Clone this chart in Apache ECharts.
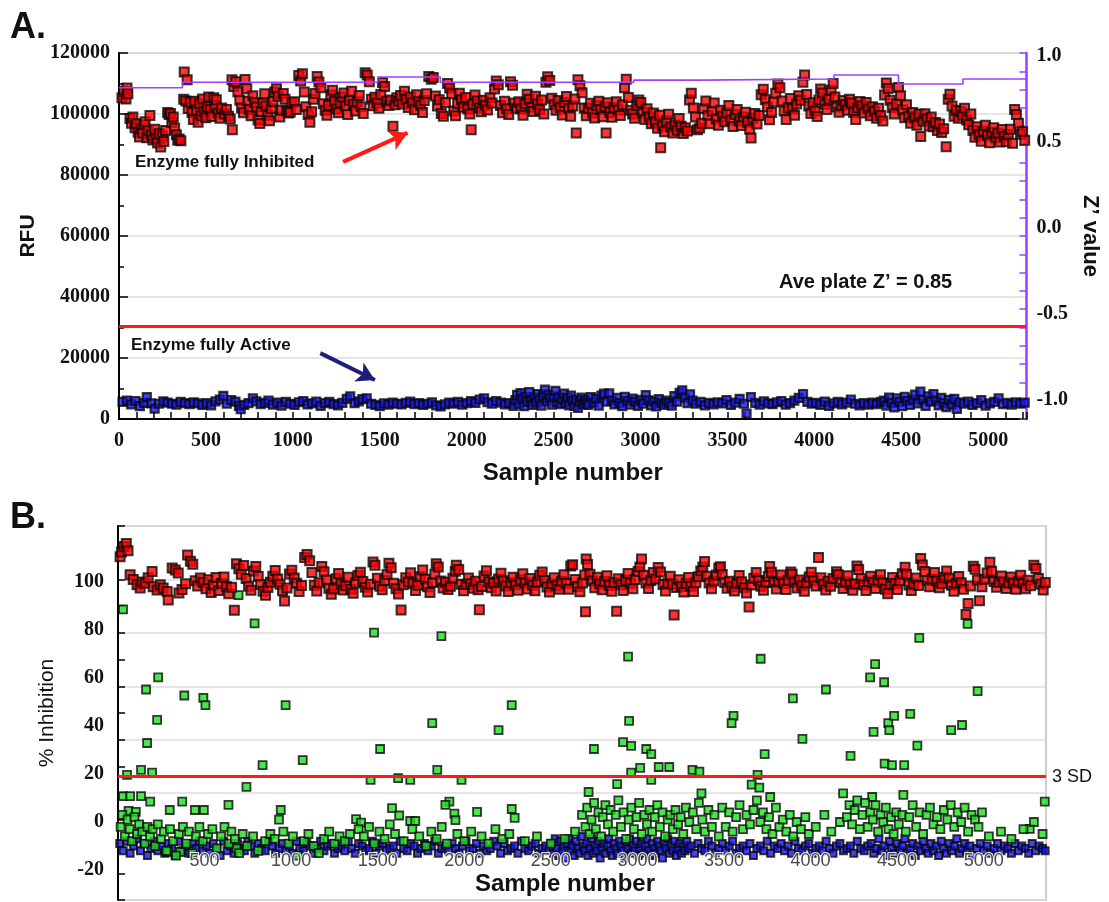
<!DOCTYPE html>
<html><head><meta charset="utf-8">
<script src="https://cdn.jsdelivr.net/npm/echarts@6/dist/echarts.min.js"></script>
<style>html,body{margin:0;padding:0;background:#fff}#c{width:1109px;height:902px}</style>
</head><body><div id="c"></div>
<script>
// ---------- Panel A data: [sample number, RFU] ----------
const aInhibited = [
[17,105300],[28,107500],[40,104900],[46,108500],[51,106600],
[63,98500],[72,97000],[80,99000],[92,95500],[100,96800],[110,94000],[118,92500],[126,95200],[135,93800],[144,96500],[150,97500],[160,92200],[168,94500],[178,99500],[186,93000],[195,91500],[205,95000],[214,92000],[222,90500],[232,93500],[240,89200],[250,92800],[258,91000],[268,94600],[280,100500],[288,99800],[296,100200],[304,97200],[312,99000],[320,95400],[330,93200],[338,91400],[346,91800],[356,91200],
[372,104800],[375,113800],[384,104300],[392,111200],[398,101800],[410,103900],[420,100500],[428,98200],[436,104200],[446,101200],[455,97300],[464,103400],[472,99400],[480,104900],[490,100700],[500,98800],[508,102400],[516,105600],[525,101500],[534,99200],[545,105300],[552,102800],[560,104700],[570,100300],[580,98600],[590,102000],[606,100000],[618,101500],[630,99300],[640,98400],[650,111200],[652,94800],[660,109000],[672,110600],[684,107200],[695,104500],[705,102000],[716,100400],
[725,111300],[735,108300],[742,104200],[750,101500],[760,99400],[770,106000],[780,103800],[790,102300],[800,98000],[810,96900],[818,100800],[828,103500],[838,106600],[846,102600],[856,99600],[866,97800],[876,101700],[886,104000],[896,107200],[906,108300],[915,105800],[925,99000],[935,101200],[945,106700],[955,104800],[965,101000],[975,100300],[985,100600],[995,103800],
[1010,104000],[1020,101500],[1034,112600],[1045,110800],[1055,113200],[1066,107200],[1075,102400],[1088,99800],[1098,97300],[1108,100700],[1118,104800],[1128,106700],[1140,112300],[1150,110500],[1162,108600],[1175,103400],[1186,101200],[1196,99600],[1206,102900],[1218,106200],[1228,107800],[1240,104200],[1250,101600],[1262,100400],[1272,103700],[1284,105600],[1294,106900],[1305,102600],[1316,99800],[1326,104500],[1338,107500],[1348,103200],[1360,101000],[1370,104000],[1382,106100],[1392,102400],[1405,100200],[1416,113500],[1428,112800],[1440,110600],[1452,104800],[1462,102700],[1472,105500],[1484,103600],[1495,101900],[1506,106400],[1516,110300],[1528,109000],[1540,104200],[1552,102800],[1562,104600],[1576,96000],[1588,103000],[1598,105300],
[1610,104200],[1620,106100],[1630,103300],[1642,107500],[1652,104800],[1664,102100],[1676,105600],[1688,103700],[1700,101400],[1712,106300],[1722,104000],[1735,102800],[1746,100500],[1756,104400],[1770,106600],[1782,112300],[1796,111400],[1808,112000],[1820,105900],[1832,102600],[1842,104700],[1854,100200],[1866,99300],[1878,103800],[1890,110000],[1902,108500],[1914,106600],[1926,101000],[1936,99400],[1948,103400],[1958,106800],[1970,104700],[1982,102200],[1994,105400],[2006,101600],[2018,100000],[2026,94800],[2036,103200],[2048,106200],[2060,104300],[2072,102000],[2084,100700],[2096,104500],[2108,102900],[2120,101300],[2134,105300],[2146,103600],[2160,108200],[2170,110800],[2182,109600],[2194,102800],[2206,100400],[2218,104200],[2230,101700],[2242,99800],[2252,110600],[2264,109400],[2276,103600],[2288,101900],
[2300,104000],[2312,101600],[2324,99600],[2336,103400],[2348,106500],[2360,104800],[2372,102200],[2384,100800],[2396,105800],[2408,103300],[2420,101400],[2432,104600],[2444,100000],[2456,110400],[2466,112200],[2478,111000],[2490,105200],[2502,103000],[2514,101200],[2526,104400],[2538,102100],[2550,99700],[2562,103800],[2574,105700],[2586,101800],[2598,99300],[2610,102600],[2622,104900],[2630,93800],[2640,111200],[2652,109300],[2664,107000],[2676,102000],[2688,99400],[2700,101800],[2712,103500],[2724,100300],[2736,98700],[2748,102700],[2760,104200],[2772,101500],[2784,99100],[2796,102400],[2802,93800],[2812,103700],[2824,100500],[2836,98900],[2848,102100],[2860,104000],[2872,101300],[2884,99500],[2896,103000],[2908,108600],[2918,111400],[2930,105400],[2942,101200],[2954,100000],[2966,98600],[2978,102900],[2990,104600],
[3002,103800],[3014,100400],[3026,98200],[3038,101700],[3050,99000],[3062,96800],[3074,100300],[3086,97400],[3098,95300],[3110,99600],[3116,88900],[3126,96100],[3138,94200],[3150,97800],[3162,99900],[3174,95700],[3186,93800],[3198,96400],[3210,94700],[3222,98500],[3234,96000],[3246,93600],[3258,95500],[3270,94400],[3282,104600],[3292,106800],[3304,102000],[3316,99000],[3328,94800],[3340,95400],
[3352,97000],[3364,101800],[3376,104300],[3388,99500],[3400,96800],[3412,100900],[3424,103600],[3436,98400],[3448,96300],[3460,101200],[3472,99300],[3484,97500],[3496,100400],[3508,102800],[3520,98000],[3532,95900],[3544,99800],[3556,101500],[3568,97700],[3580,96200],[3592,99000],[3604,100600],[3616,97300],[3628,95000],[3636,92100],[3646,98600],[3658,100200],[3670,96700],[3682,99500],[3694,106300],[3706,108100],[3718,104700],[3730,102300],[3742,98100],[3754,100500],[3766,103900],[3778,106800],[3790,109800],[3802,108600],[3814,104300],[3826,101000],[3838,98200],[3850,102000],[3862,105100],[3874,101700],[3886,99600],[3898,103300],[3910,106000],[3922,104500],[3934,110400],[3944,112800],[3956,106400],[3968,102600],[3980,100200],[3992,103700],[4004,101000],[4016,99200],[4026,104600],[4036,108200],[4048,106900],[4060,103200],[4072,101500],[4084,104900],[4096,107800],[4108,110000],[4118,105600],[4130,102300],[4142,100600],
[4154,102800],[4166,104400],[4178,103100],[4190,101200],[4202,104800],[4214,103600],[4226,100500],[4238,98200],[4250,102000],[4262,104100],[4274,102700],[4286,100300],[4298,103800],[4310,101600],[4322,99400],[4334,102400],[4346,100800],[4358,98600],[4370,101900],[4382,99500],[4394,97700],[4404,106200],[4414,110200],[4424,108400],[4436,104500],[4448,102100],[4460,100000],[4472,103300],[4484,108700],[4496,106000],[4508,101400],[4520,98800],[4530,103000],
[4542,99200],[4554,97000],[4566,100500],[4578,98700],[4590,96300],[4602,99900],[4612,92600],[4624,97600],[4636,100100],[4648,98400],[4660,96100],[4672,99000],[4684,95800],[4696,97200],[4708,94600],[4720,96700],[4732,93900],[4744,95200],[4758,89300],[4770,104800],[4780,106500],[4792,102600],[4804,99300],[4816,101200],[4828,98600],[4840,100800],[4852,99700],[4864,101900],[4876,98000],[4888,96500],[4900,100000],
[4912,94600],[4924,92400],[4936,95800],[4948,93200],[4960,91100],[4972,94400],[4984,96300],[4996,92900],[5008,90600],[5020,94000],[5032,95500],[5044,92200],[5056,93700],[5068,90800],[5080,94900],[5092,92600],[5104,91000],[5116,93300],[5128,95000],[5140,90400],[5152,101500],[5162,99800],[5174,97000],[5186,93400],[5198,94200],[5210,91400]
];
const aActive = [
[20,5600],[45,6000],[70,4800],[95,5900],[120,4200],[145,5300],[160,7200],[185,5100],[205,3400],[230,5000],[255,5800],[280,5400],[305,5000],[330,4700],[355,5600],[380,5200],[405,4900],[430,5500],[455,5100],[480,4600],
[505,5200],[530,4500],[555,5800],[580,6400],[600,7600],[620,5000],[645,6200],[670,5700],[690,4300],[700,3200],[720,4600],[745,5200],[770,6800],[790,5800],[815,4900],[840,5300],[860,6000],[885,4700],[910,5400],[935,4400],[960,5600],[985,5000],
[1010,4600],[1035,5500],[1060,5900],[1085,4800],[1110,5100],[1135,5700],[1160,4300],[1185,5200],[1210,5600],[1235,4900],[1260,4500],[1285,5300],[1310,6600],[1330,7400],[1355,5200],[1380,5800],[1400,6500],[1425,6800],[1450,5000],[1475,4600],
[1500,4200],[1525,5100],[1550,4700],[1575,5400],[1600,5000],[1625,4800],[1650,5300],[1675,5700],[1700,4900],[1725,5200],[1750,4600],[1775,5000],[1800,5500],[1825,4500],[1850,4100],[1875,4800],[1900,5400],[1925,5000],[1950,5600],[1975,4700],
[2000,5200],[2025,5900],[2050,5300],[2075,6400],[2100,6800],[2120,5500],[2145,5000],[2170,5900],[2195,5400],[2220,4800],[2245,5200],
[2270,4300],[2280,6200],[2290,7900],[2300,5000],[2310,8500],[2320,6600],[2330,4200],[2340,7300],[2350,5600],[2360,8800],[2370,6000],[2380,4600],[2390,7000],[2400,5400],[2410,8200],[2420,6300],[2430,4400],[2440,7600],[2450,9600],[2460,5800],[2470,8000],[2480,6800],[2490,4700],[2500,7400],[2510,9200],[2520,5500],[2530,7100],[2540,4900],[2550,6500],[2560,8300],[2570,5200],[2580,6900],[2590,4500],[2600,7700],[2610,5900],[2620,4300],[2630,6400],[2640,3600],[2650,5600],[2660,7000],[2670,4800],[2680,6200],[2690,5300],
[2700,4600],[2715,7200],[2730,5400],[2745,6600],[2760,4400],[2775,7700],[2790,8300],[2805,5700],[2820,8400],[2835,6000],[2850,4800],[2865,6900],[2880,5300],[2895,4200],[2910,7300],[2925,5900],[2940,4700],[2955,6700],[2970,5600],[2985,4300],[3000,6300],[3015,5000],[3030,7800],[3045,6100],[3060,4500],[3075,5800],[3090,4100],[3105,6500],[3120,5200],[3135,4600],[3150,6000],[3165,5400],[3180,4400],[3195,7500],[3210,5700],[3225,8600],[3240,9400],[3255,7000],[3270,5200],[3285,8100],[3300,6000],
[3320,5000],[3345,5600],[3370,4500],[3395,5300],[3420,4800],[3445,5500],[3470,5100],[3495,6200],[3520,4600],[3545,5400],[3570,6600],[3595,5000],[3610,1800],[3635,7200],[3660,5300],[3685,4700],[3710,5800],[3735,5100],[3760,4900],[3785,5500],[3810,5900],[3835,4700],[3860,5200],[3885,6000],[3910,6900],[3935,8200],[3960,5600],[3985,5000],[4010,5300],[4035,4600],[4060,5700],[4085,4300],[4110,5100],[4135,5600],[4160,4800],[4185,5400],[4210,6400],[4235,5000],[4260,4500],[4285,5200],[4310,4700],[4335,5400],[4360,4900],[4385,5600],
[4400,6000],[4415,4400],[4430,7000],[4445,5300],[4460,3800],[4475,6800],[4490,5600],[4505,4200],[4520,7300],[4535,5900],[4550,4600],[4565,6400],[4580,8000],[4595,5100],[4610,9000],[4625,6200],[4640,4300],[4655,7400],[4670,5700],[4685,8200],[4700,6000],[4715,4500],[4730,6900],[4745,5200],[4760,3900],[4775,6300],[4790,4800],[4805,6600],[4820,3300],[4835,5500],
[4860,5000],[4885,5700],[4910,4600],[4935,5200],[4960,6200],[4985,4400],[5010,5100],[5035,5600],[5060,6800],[5085,4900],[5110,5300],[5135,4700],[5160,5500],[5185,5000],[5210,5400]
];
// Z' value per plate (step line): [first sample of plate, Z']
const aZprime = [[0,0.81],[365,0.84],[1489,0.869],[1848,0.84],[2961,0.852],[3355,0.858],[4113,0.88],[4484,0.831],[4855,0.858],[5220,0.858]];
const aThresholdRFU = 30400;
const aArrowInhibited = [[1289,84300],[1660,93800]];
const aArrowActive = [[1158,21600],[1472,12800]];
const zRightLabels = [-1,-0.5,0,0.5,1];

// ---------- Panel B data: [sample number, % inhibition] ----------
const bInhibited = [
[12,110.5],[20,112.5],[35,114.8],[48,116],[58,113],[70,103],[88,101],[110,98.8],[128,97.5],[139,100],[157,99.5],[174,101.7],[197,104.3],[203,98],[226,96.6],[244,98.8],[261,97.5],[284,96],[290,92.5],[313,105.8],[331,105],[348,103.7],[352,95.4],
[370,96.8],[390,99.2],[402,111.2],[418,108.6],[432,107.4],[446,100.5],[460,98.3],[476,101.6],[492,99.8],[508,97.2],[522,100.9],[538,95.6],[552,98.7],[566,101.8],[582,96.4],[598,99.3],[612,102.1],[626,98],[640,95.1],[656,97.8],[672,88.2],[684,107.6],[698,105.5],[712,103.2],[726,106.8],[740,101.4],[754,98.2],[768,96.5],[782,104.6],[796,106.4],[810,102.3],[824,98.9],[838,96.1],[852,94.4],[866,97.7],[880,99.9],[894,102.4],[908,104.8],[922,101.2],[936,99],[950,96.3],[962,92.1],[976,97.5],[990,103.3],
[1004,104.9],[1018,101.6],[1032,99.4],[1046,96],[1060,98.5],[1078,110.2],[1092,111.4],[1107,108.8],[1120,103.9],[1134,98.6],[1148,96.2],[1162,99.7],[1177,106.4],[1190,104.2],[1204,100.8],[1218,97.4],[1232,94.9],[1246,97.1],[1260,101.3],[1274,103.5],[1288,99.1],[1302,96.6],[1316,98.4],[1330,101.9],[1344,97],[1358,95.3],[1372,99.6],[1386,102.7],[1400,104],[1414,100.2],[1428,97.8],[1442,95.8],[1458,99],[1473,108.3],[1484,107],[1498,101.5],
[1512,98.2],[1526,96.7],[1540,100.6],[1554,103.1],[1565,107.8],[1578,105.9],[1592,99.4],[1606,97.2],[1620,95],[1635,88.3],[1648,98.8],[1662,101.7],[1676,100],[1690,103.8],[1704,99.3],[1718,96.4],[1732,98.6],[1746,102.2],[1760,105],[1774,101.1],[1788,98],[1802,95.6],[1816,99.8],[1830,103.2],[1838,107.6],[1850,106.2],[1864,100.4],[1878,97.5],[1892,99.9],[1906,96.8],[1920,98.2],[1934,101.5],[1948,104.4],[1954,107],[1968,105.2],[1982,99],[1996,96.3],
[2010,98.9],[2024,101.6],[2038,99.2],[2052,97.4],[2066,100.3],[2080,96.7],[2087,88.4],[2100,98.1],[2114,102.5],[2128,104.7],[2142,100.1],[2156,97.6],[2170,99.4],[2184,96.2],[2198,101.2],[2212,103.6],[2226,100.5],[2240,98.3],[2254,96],[2268,99.7],[2282,102],[2296,98.8],[2310,96.5],[2324,100.9],[2338,103.4],[2352,99.6],[2366,97.1],[2380,101.4],[2394,98.6],[2408,96.3],[2422,99.9],[2436,102.8],[2450,104.1],[2464,100.6],[2478,97.9],[2492,95.8],
[2506,99.2],[2520,101.7],[2534,98.4],[2548,96.9],[2562,100.3],[2576,103],[2590,99.5],[2604,97],[2615,106.6],[2626,107.2],[2640,101],[2654,98.1],[2668,95.9],[2682,99.6],[2696,102.9],[2700,87.6],[2704,109.6],[2712,107.3],[2726,103.2],[2740,100.4],[2754,97.6],[2768,101.9],[2782,99.1],[2796,96.7],[2810,100.2],[2824,102.6],[2838,98.5],[2852,96.1],[2866,99.8],[2880,87.8],[2890,101.3],[2904,98.8],[2918,96.4],[2932,100.7],[2946,103.5],[2960,99.4],[2974,97.2],[2988,101],
[3004,104.3],[3014,106.2],[3024,109.6],[3036,102.8],[3050,99.6],[3064,97.3],[3078,100.6],[3092,103.9],[3106,101.2],[3120,106],[3134,104.1],[3148,98.9],[3162,96.2],[3176,99.5],[3190,102.4],[3204,99],[3212,86.2],[3226,97.7],[3240,100.9],[3254,98.1],[3268,95.8],[3282,99.3],[3296,101.8],[3310,98.2],[3324,96],[3338,99.7],[3352,102.2],[3366,104.6],[3378,106.2],[3388,108.5],[3400,102.4],[3414,99.6],[3428,97.2],[3442,100.4],[3456,102.9],[3470,105.8],[3480,106.3],[3490,103.1],
[3504,99.8],[3518,97.4],[3532,100.3],[3546,98],[3560,96.2],[3574,99.5],[3588,102.7],[3602,100.1],[3616,97.6],[3630,95.4],[3645,89.6],[3658,98.7],[3672,101.5],[3686,103.9],[3700,100.6],[3714,98.2],[3728,96.5],[3742,99.9],[3756,102.3],[3764,106.4],[3774,104],[3788,99.8],[3802,97.1],[3816,100.2],[3830,102.9],[3844,99.3],[3858,96.8],[3872,100.7],[3886,104.1],[3894,103.2],[3908,99.9],[3922,97.5],[3936,100.8],[3950,98.4],[3964,96.1],[3978,99.6],[3992,102.1],
[4004,104],[4018,100.5],[4032,98.3],[4046,110.2],[4060,101.7],[4074,99],[4088,96.6],[4102,100.3],[4116,98.2],[4130,101.4],[4150,104.2],[4160,103],[4174,99.7],[4188,97.3],[4202,100],[4216,102.6],[4230,98.8],[4244,96.5],[4258,99.2],[4268,106.6],[4278,105.2],[4292,101.3],[4306,98.7],[4320,96.4],[4334,100.1],[4348,102.4],[4362,99.8],[4376,97.3],[4390,100.6],[4404,103],[4418,99.7],[4432,97],[4446,95.1],[4460,98.9],[4474,101.8],[4488,99.3],
[4502,96.8],[4516,100.5],[4530,103.4],[4546,106.1],[4554,103.2],[4568,98.7],[4582,96.4],[4596,99.1],[4610,101.6],[4624,98.5],[4636,109.8],[4646,107.1],[4660,104.3],[4674,100.6],[4688,98],[4702,101.2],[4716,103.9],[4730,100.4],[4744,97.6],[4758,99.3],[4772,102],[4786,104.6],[4800,101.5],[4814,98.6],[4828,96.1],[4842,99.5],[4856,102.3],[4870,99.7],[4884,97],[4898,86.4],[4910,91],[4924,98.3],[4940,106.5],[4950,105.3],[4964,100.8],[4976,92.2],[4990,98],
[5004,101.1],[5020,103.7],[5036,108.2],[5046,104.5],[5060,100.2],[5074,97.8],[5088,99.9],[5102,102.5],[5116,100],[5130,97.3],[5144,99.6],[5158,102.1],[5172,99.4],[5186,96.9],[5200,100.3],[5214,102.8],[5228,99.5],[5242,97.2],[5256,100.7],[5270,98.4],[5290,107],[5302,105.6],[5316,101.4],[5330,99],[5344,96.6],[5356,99.8]
];
const bSamples = [
[29,88.6],[696,94.5],[789,82.7],[1479,78.9],[1868,77.4],[162,55.2],[232,60.2],[226,42.5],[168,32.9],[383,52.7],[493,51.7],[505,48.7],[968,48.7],[1815,41.2],[2274,48.7],[2198,38.3],[1514,30.4],[1067,25.8],[835,23.7],[52,19.6],[133,21.7],[197,20.6],[1844,21.7],[1459,17.5],[1618,18.3],[1688,17.5],[1984,17.5],[742,14.6],[29,10.8],[70,10.8],[133,10.8],[186,8.5],[638,7.1],[1914,8.5],[1891,7.1],[61,4.6],[103,4.2],[299,5],[371,8.5],[444,5],[496,5],[940,5],[1583,5.8],[2074,4.2],[2274,5.4],[1624,2.7],[1688,0.4],[1943,3.5],[1949,0.8],[2291,1.7],[1375,1.2],[1404,-0.3],[1717,0.4],[290,-12.5],[360,-12.5],[684,-11],
[2952,42.1],[2749,30.4],[2917,33.3],[2964,31.7],[3051,30.4],[3080,28.3],[3123,22.9],[3184,22.9],[2964,20.6],[3016,22.5],[3080,17.5],[3318,21.7],[3358,21],[3555,44.2],[3544,41.2],[3898,51.5],[3953,34.6],[3735,28.3],[3694,19.6],[3660,15.6],[3704,14.3],[2883,15.8],[2718,12.5],[3370,11.9],[3767,10.4],[4188,11.9],[4356,10.4],[4536,11.3],[4231,27.5],[4364,37.5],[4449,41.2],[4455,38.3],[4483,44.2],[4576,45],[4617,31.8],[4428,24.3],[4470,23.7],[4541,23.7],[4812,38.3],[4875,40.4],[4965,54.5],[5353,8.5],[5266,-2.9],
[2946,68.9],[3712,68],[4628,76.7],[4907,82.5],[4373,65.8],[4344,60.2],[4425,58.2],[4089,55.2],
[15,-2],[25,3],[40,-6],[55,1],[68,-3],[80,-8],[95,2],[110,-5],[122,-1],[140,-4],[155,-9],[170,-2],[185,-6],[200,-3],[215,-10],[230,-1],[248,-7],[265,-4],[280,-12],[300,-3],[318,-8],[335,-14],[352,-5],[375,-2],[395,-9],[410,-4],[430,-13],[450,-6],[470,-2],[490,-8],[520,-5],[545,-3],[570,-11],[595,-6],[615,-2],[640,-9],[655,-4],[675,-7],[700,-13],[720,-5],[745,-10],[780,-6],[810,-12],[850,-8],[880,-5],
[905,-7],[930,1],[955,-4],[985,-9],[1010,-6],[1040,-14],[1075,-8],[1100,-5],[1130,-10],[1160,-13],[1190,-7],[1220,-4],[1250,-9],[1280,-6],
[1310,-8],[1340,-5],[1390,-3],[1420,-6],[1450,-2],[1480,-9],[1510,-4],[1540,-7],[1570,-1],[1600,-5],[1650,-8],[1700,-3],[1740,-6],[1780,-10],[1810,-4],[1840,-7],[1870,-2],[1900,-9],[1960,-5],[2000,-8],[2040,-4],[2100,-6],[2140,-9],[2180,-3],[2220,-7],[2260,-5],
[2350,-8],[2420,-6],[2500,-9],[2580,-7],[2640,-4],
[2680,3],[2700,-2],[2710,6],[2725,-5],[2735,1],[2750,8],[2760,-3],[2775,4],[2790,-6],[2800,2],[2815,7],[2830,-1],[2845,5],[2860,-4],[2875,3],[2890,9],[2905,-2],[2920,4],[2935,-7],[2950,1],[2965,6],[2980,-3],[2995,2],[3010,8],[3025,-5],[3040,3],[3055,-1],[3070,5],[3085,-4],[3100,2],[3115,7],[3130,-2],[3145,4],[3160,-6],[3175,1],[3190,3],[3205,-3],[3220,5],[3235,-1],[3250,2],[3265,-5],[3280,6],[3300,0],[3320,4],[3340,-3],[3355,8],[3375,1],[3390,-4],[3410,5],[3430,-2],[3445,3],
[3470,-6],[3490,6],[3510,-2],[3530,4],[3550,-4],[3570,2],[3590,7],[3610,-3],[3630,3],[3650,-1],[3670,5],[3690,9],[3710,0],[3725,4],[3745,-3],[3760,2],[3780,-5],[3800,6],[3820,-2],[3840,1],[3860,-4],[3880,3],[3900,-6],[3920,0],[3945,-3],[3970,2],[3990,-5],
[4030,-2],[4080,3],[4120,-4],[4170,0],
[4210,2],[4225,7],[4240,-1],[4255,5],[4270,9],[4285,-3],[4300,3],[4315,8],[4330,-2],[4345,4],[4360,1],[4375,7],[4390,-4],[4405,3],[4420,0],[4435,6],[4450,-3],[4465,2],[4480,-5],[4495,4],[4510,-1],[4530,3],[4550,-4],[4570,2],[4590,7],[4610,-2],[4630,4],[4650,-5],[4670,3],[4690,6],[4710,-1],[4730,2],[4750,-3],[4770,5],[4790,1],[4810,7],[4830,-2],[4850,4],[4870,0],[4890,6],[4910,-4],[4930,3],[4950,1],[4970,-2],[4990,4],
[5030,-6],[5100,-4],[5160,-7],[5230,-3],[5290,0],[5340,-5]
];
const bActive = [
[10,-9],[30,-12],[50,-8],[70,-13],[90,-10],[110,-7],[130,-12],[150,-9],[170,-14],[190,-11],[210,-8],[230,-12],[250,-10],[270,-13],[290,-9],[310,-11],[330,-14],[350,-8],[370,-12],[390,-10],[410,-13],[430,-9],[450,-11],[470,-8],[490,-12],[510,-10],[530,-13],[550,-9],[570,-11],[590,-14],[610,-8],[630,-12],[650,-10],[670,-13],[690,-9],[710,-11],[730,-12],[750,-8],[770,-10],[790,-13],[810,-9],[830,-11],[850,-12],[870,-8],[890,-10],[910,-13],[930,-11],[950,-9],[970,-12],[990,-10],
[1010,-13],[1030,-8],[1050,-11],[1070,-12],[1090,-9],[1110,-10],[1130,-13],[1150,-11],[1170,-8],[1190,-12],[1210,-10],[1230,-9],[1250,-13],[1270,-11],[1290,-10],[1310,-12],[1330,-8],[1350,-11],[1370,-13],[1390,-9],[1410,-10],[1430,-12],[1450,-11],[1470,-8],[1490,-13],[1510,-10],[1530,-9],[1550,-12],[1570,-11],[1590,-10],[1610,-13],[1630,-8],[1650,-11],[1670,-12],[1690,-9],[1710,-10],[1730,-13],[1750,-11],[1770,-9],[1790,-12],[1810,-10],[1830,-8],[1850,-13],[1870,-11],[1890,-10],[1910,-12],[1930,-9],[1950,-11],[1970,-13],[1990,-10],
[2010,-8],[2030,-12],[2050,-11],[2070,-9],[2090,-13],[2110,-10],[2130,-12],[2150,-11],[2170,-8],[2190,-10],[2210,-13],[2230,-9],[2250,-12],[2270,-11],[2290,-10],[2310,-13],[2330,-8],[2350,-11],[2370,-12],[2390,-10],[2410,-9],[2430,-13],[2450,-11],[2470,-10],[2490,-12],
[2505,-9],[2515,-13],[2525,-7],[2535,-11],[2545,-14],[2555,-8],[2565,-12],[2575,-10],[2585,-15],[2595,-9],[2605,-7],[2615,-12],[2625,-10],[2635,-14],[2645,-8],[2655,-11],[2665,-13],[2675,-6],[2685,-10],[2695,-12],[2705,-9],[2715,-14],[2725,-11],[2735,-7],[2745,-13],[2755,-10],[2765,-12],[2775,-8],[2785,-15],[2795,-11],[2805,-9],[2815,-13],[2825,-10],[2835,-7],[2845,-12],[2855,-14],[2865,-9],[2875,-11],[2885,-13],[2895,-8],[2905,-10],[2915,-12],[2925,-15],[2935,-9],[2945,-11],[2955,-7],[2965,-13],[2975,-10],[2985,-12],[2995,-8],
[3005,-14],[3015,-11],[3025,-9],[3035,-13],[3045,-10],[3055,-7],[3065,-12],[3075,-14],[3085,-9],[3095,-11],[3105,-13],[3115,-8],[3125,-10],[3135,-12],[3145,-15],[3155,-9],[3165,-11],[3175,-7],[3185,-13],[3195,-10],[3205,-12],[3215,-8],[3225,-14],[3235,-11],[3245,-9],[3255,-13],[3265,-10],[3275,-12],[3285,-8],[3295,-11],
[3310,-10],[3330,-13],[3350,-9],[3370,-11],[3390,-12],[3410,-8],[3430,-10],[3450,-13],[3470,-11],[3490,-9],[3510,-12],[3530,-10],[3550,-8],[3570,-13],[3590,-11],[3610,-10],[3630,-12],[3650,-9],[3670,-14],[3690,-11],[3710,-10],[3730,-12],[3750,-8],[3770,-13],[3790,-10],[3810,-11],[3830,-9],[3850,-12],[3870,-10],[3890,-13],[3910,-8],[3930,-11],[3950,-12],[3970,-10],[3990,-9],
[4010,-13],[4030,-11],[4050,-10],[4070,-12],[4090,-8],[4110,-11],[4130,-13],[4150,-10],[4170,-9],[4190,-12],[4210,-11],[4230,-10],[4250,-13],[4270,-8],[4290,-11],[4310,-12],[4330,-10],
[4350,-9],[4365,-13],[4380,-11],[4395,-7],[4410,-12],[4425,-10],[4440,-14],[4455,-8],[4470,-11],[4485,-13],[4500,-9],[4515,-12],[4530,-10],[4545,-7],[4560,-13],[4575,-11],[4590,-9],[4605,-14],[4620,-10],[4635,-12],[4650,-8],[4665,-11],[4680,-13],[4695,-9],[4710,-12],[4725,-10],[4740,-14],[4755,-8],[4770,-11],[4785,-13],[4800,-9],[4815,-12],[4830,-10],[4845,-7],[4860,-13],[4875,-11],[4890,-9],[4905,-12],[4920,-10],[4935,-14],
[4960,-11],[4980,-9],[5000,-12],[5020,-10],[5040,-13],[5060,-11],[5080,-9],[5100,-12],[5120,-10],[5140,-11],[5160,-13],[5180,-9],[5200,-12],[5220,-10],[5240,-11],[5260,-13],[5280,-9],[5300,-12],[5320,-10],[5340,-11],[5355,-12]
];
const b3SD = 18.9;
const bYLabels = [-20,0,20,40,60,80,100];
const bXLabels = [500,1000,1500,2000,2500,3000,3500,4000,4500,5000];

// ---------- chart ----------
const chart = echarts.init(document.getElementById('c'), null, {renderer:'canvas'});
const SERIF = 'Liberation Serif', SANS = 'Liberation Sans';
const plain = v => String(v);
const tickLbl = {fontFamily:SERIF, fontWeight:'bold', fontSize:20, color:'#111'};
const sq = (fill, size, bw) => ({symbol:'rect', symbolSize:size, itemStyle:{color:fill, borderColor:'#0a0a0a', borderWidth:bw}});
function txt(x, y, text, font, align) {
  return {type:'text', x:x, y:y, z:100, style:{text:text, font:font, fill:'#111', textAlign:align||'left', align:align||'left', textVerticalAlign:'middle', verticalAlign:'middle'}};
}
const arrowEnd = (pt, color) => ({coord:pt, symbol:'arrow', symbolSize:[16,18], lineStyle:{color:color, width:4, type:'solid'}});
const arrowStart = (pt, color) => ({coord:pt, symbol:'none', lineStyle:{color:color, width:4, type:'solid'}});
const option = {
  animation:false,
  grid:[
    {left:119, top:53, width:915, height:366, show:true, borderColor:'#cccccc', borderWidth:2, backgroundColor:'transparent'},
    {left:118, top:526, width:928, height:374, show:true, borderColor:'#cccccc', borderWidth:2, backgroundColor:'transparent'}
  ],
  xAxis:[
    {gridIndex:0, type:'value', min:0, max:5220, interval:100,
     axisLine:{lineStyle:{color:'#000', width:2}},
     axisTick:{inside:true, length:7, lineStyle:{color:'#000', width:1.5}},
     axisLabel:Object.assign({margin:12, formatter:v => (v % 500 === 0 ? String(v) : '')}, tickLbl),
     splitLine:{show:false},
     name:'Sample number', nameLocation:'middle', nameGap:42,
     nameTextStyle:{fontFamily:SANS, fontWeight:'bold', fontSize:24, color:'#111'}},
    {gridIndex:1, type:'value', min:0, max:5360, z:10,
     axisLine:{show:false}, axisTick:{show:false}, splitLine:{show:false},
     axisLabel:{inside:true, customValues:bXLabels, formatter:plain, margin:30, fontFamily:SANS, fontSize:18, color:'#4a4a4a',
       textBorderColor:'rgba(255,255,255,0.85)', textBorderWidth:2}}
  ],
  yAxis:[
    {gridIndex:0, position:'left', type:'value', min:0, max:120000, interval:20000,
     axisLine:{show:true, lineStyle:{color:'#000', width:2}},
     axisTick:{show:true, inside:true, length:9, lineStyle:{color:'#000', width:1.5}},
     minorTick:{show:true, splitNumber:2, length:5, lineStyle:{color:'#000', width:1.5}},
     splitLine:{show:true, lineStyle:{color:'#dcdcdc', width:1.5}},
     axisLabel:Object.assign({margin:9, formatter:plain}, tickLbl),
     name:'RFU', nameLocation:'middle', nameRotate:90, nameGap:77,
     nameTextStyle:{fontFamily:SANS, fontWeight:'bold', fontSize:21, color:'#111'}},
    {gridIndex:0, position:'right', type:'value', min:-1, max:1, interval:0.1,
     axisLine:{show:true, lineStyle:{color:'#a040ff', width:2.5}},
     axisTick:{show:true, inside:true, length:7, lineStyle:{color:'#a040ff', width:1.5}},
     axisLabel:{show:false}, splitLine:{show:false}},
    {gridIndex:0, position:'right', type:'value', min:-1.11, max:1.017,
     axisLine:{show:false}, axisTick:{show:false}, splitLine:{show:false},
     axisLabel:Object.assign({margin:10, customValues:zRightLabels, formatter:v => v.toFixed(1)}, tickLbl),
     name:'Z\u2019 value', nameLocation:'middle', nameRotate:-90, nameGap:38,
     nameTextStyle:{fontFamily:SANS, fontWeight:'bold', fontSize:22, color:'#111'}},
    {gridIndex:1, position:'left', type:'value', min:-32.5, max:123.3,
     axisLine:{show:false}, axisTick:{show:false}, splitLine:{show:false},
     axisLabel:Object.assign({margin:14, customValues:bYLabels, formatter:plain}, tickLbl),
     name:'% Inhibition', nameLocation:'middle', nameRotate:90, nameGap:60,
     nameTextStyle:{fontFamily:SANS, fontSize:21, color:'#111'}},
    {gridIndex:1, position:'left', type:'value', min:-20, max:120, interval:20,
     axisLine:{show:true, lineStyle:{color:'#000', width:2}},
     axisTick:{show:true, inside:true, length:7, lineStyle:{color:'#000', width:1.5}},
     minorTick:{show:true, splitNumber:2, length:7, lineStyle:{color:'#000', width:1.5}},
     splitLine:{show:true, lineStyle:{color:'#dcdcdc', width:1.5}},
     axisLabel:{show:false}}
  ],
  series:[
    Object.assign({type:'scatter', name:'A active', xAxisIndex:0, yAxisIndex:0, data:aActive, silent:true,
      markLine:{silent:true, symbol:['none','none'], label:{show:false},
        lineStyle:{type:'solid'},
        data:[[arrowStart(aArrowActive[0], '#1c1f78'), arrowEnd(aArrowActive[1], '#1c1f78')]]}},
      sq('#1414ff', 8, 2.2)),
    Object.assign({type:'scatter', name:'A inhibited', xAxisIndex:0, yAxisIndex:0, data:aInhibited, silent:true,
      markLine:{silent:true, symbol:['none','none'], label:{show:false},
        lineStyle:{type:'solid'},
        data:[{yAxis:aThresholdRFU, lineStyle:{color:'#ff1a1a', width:3, type:'solid'}},
              [arrowStart(aArrowInhibited[0], '#ff1a1a'), arrowEnd(aArrowInhibited[1], '#ff1a1a')]]}},
      sq('#ff0000', 9, 2)),
    {type:'line', name:'Z prime', xAxisIndex:0, yAxisIndex:1, data:aZprime, step:'end', symbol:'none', silent:true,
     lineStyle:{color:'#a040ff', width:1.6}, z:5},
    Object.assign({type:'scatter', name:'B active', xAxisIndex:1, yAxisIndex:3, data:bActive, silent:true},
      sq('#1414ff', 7, 2)),
    Object.assign({type:'scatter', name:'B samples', xAxisIndex:1, yAxisIndex:3, data:bSamples, silent:true,
      markLine:{silent:true, symbol:['none','none'],
        label:{show:true, position:'end', formatter:'3 SD', color:'#111', fontFamily:SANS, fontSize:18, distance:6},
        data:[{yAxis:b3SD, lineStyle:{color:'#ff1a1a', width:3, type:'solid'}}]}},
      sq('#1ee01e', 8, 1.8)),
    Object.assign({type:'scatter', name:'B inhibited', xAxisIndex:1, yAxisIndex:3, data:bInhibited, silent:true},
      sq('#ff0000', 9, 2))
  ],
  graphic:[
    txt(10, 28, 'A.', 'bold 36px "Liberation Sans"'),
    txt(10, 518, 'B.', 'bold 36px "Liberation Sans"'),
    txt(135, 162, 'Enzyme fully Inhibited', 'bold 17px "Liberation Sans"'),
    txt(131, 345, 'Enzyme fully Active', 'bold 17px "Liberation Sans"'),
    txt(779, 282, 'Ave plate Z\u2019 = 0.85', 'bold 20px "Liberation Sans"'),
    txt(565, 884, 'Sample number', 'bold 24px "Liberation Sans"', 'center')
  ]
};
chart.setOption(option);
</script>
</body></html>
